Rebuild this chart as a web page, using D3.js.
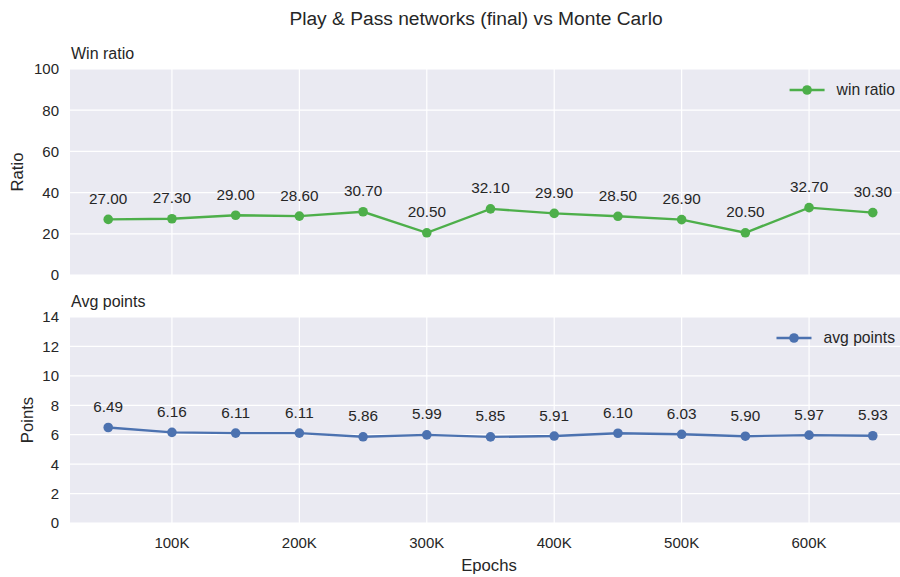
<!DOCTYPE html>
<html><head><meta charset="utf-8">
<script src="https://cdn.jsdelivr.net/npm/d3@7"></script>
<style>
body{margin:0;background:#fff;}
svg text{font-family:"Liberation Sans",Arial,sans-serif;fill:#262626;}
</style></head>
<body><svg id="c" width="900" height="577"></svg>
<script>
const epochs = [50000,100000,150000,200000,250000,300000,350000,400000,450000,500000,550000,600000,650000];
const winRatio = [27.00,27.30,29.00,28.60,30.70,20.50,32.10,29.90,28.50,26.90,20.50,32.70,30.30];
const avgPoints = [6.49,6.16,6.11,6.11,5.86,5.99,5.85,5.91,6.10,6.03,5.90,5.97,5.93];
const xTicks = [100000,200000,300000,400000,500000,600000];
const winTicks = [0,20,40,60,80,100];
const ptsTicks = [0,2,4,6,8,10,12,14];

const svg = d3.select("#c");
const x = d3.scaleLinear().domain([20000,680000]).range([70,911]);

function panel(cfg){
  const y = d3.scaleLinear().domain(cfg.domain).range([cfg.bottom,cfg.top]);
  const g = svg.append("g");
  g.append("rect").attr("x",70).attr("y",cfg.top).attr("width",841).attr("height",cfg.bottom-cfg.top).attr("fill","#eaeaf2");
  g.selectAll(".gy").data(cfg.ticks).enter().append("line")
    .attr("x1",70).attr("x2",911).attr("y1",d=>y(d)).attr("y2",d=>y(d))
    .attr("stroke","#fff").attr("stroke-width",1.2);
  g.selectAll(".gx").data(xTicks).enter().append("line")
    .attr("x1",d=>x(d)).attr("x2",d=>x(d)).attr("y1",cfg.top).attr("y2",cfg.bottom)
    .attr("stroke","#fff").attr("stroke-width",1.2);
  g.selectAll(".ty").data(cfg.ticks).enter().append("text")
    .attr("x",59).attr("y",d=>y(d)).attr("dy","0.36em").attr("text-anchor","end")
    .attr("font-size","15px").text(d=>d);
  g.append("text").attr("x",71).attr("y",cfg.top-10).attr("font-size","16px").text(cfg.title);
  g.append("text").attr("transform",`translate(${cfg.ylabX},${(cfg.top+cfg.bottom)/2}) rotate(-90)`)
    .attr("text-anchor","middle").attr("dy","0.35em").attr("font-size","16.7px").text(cfg.ylabel);
  const line = d3.line().x((d,i)=>x(epochs[i])).y(d=>y(d));
  g.append("path").datum(cfg.values).attr("d",line).attr("fill","none")
    .attr("stroke",cfg.color).attr("stroke-width",2.4);
  g.selectAll(".pt").data(cfg.values).enter().append("circle")
    .attr("cx",(d,i)=>x(epochs[i])).attr("cy",d=>y(d)).attr("r",4.8).attr("fill",cfg.color);
  g.selectAll(".lab").data(cfg.values).enter().append("text")
    .attr("x",(d,i)=>x(epochs[i])).attr("y",d=>y(d)-15.5).attr("text-anchor","middle")
    .attr("font-size","15.3px").text(d=>d.toFixed(2));
  const ly = cfg.top+21;
  const lg = g.append("g");
  lg.append("text").attr("x",895).attr("y",ly).attr("dy","0.35em").attr("text-anchor","end")
    .attr("font-size","15.7px").text(cfg.legend);
  const tw = lg.select("text").node().getComputedTextLength();
  const tx = 895 - tw;
  lg.append("line").attr("x1",tx-47).attr("x2",tx-12).attr("y1",ly).attr("y2",ly)
    .attr("stroke",cfg.color).attr("stroke-width",2.4);
  lg.append("circle").attr("cx",tx-29.5).attr("cy",ly).attr("r",4.8).attr("fill",cfg.color);
  return y;
}

panel({domain:[0,100],top:69,bottom:275,ticks:winTicks,values:winRatio,color:"#4daf4a",
  title:"Win ratio",ylabel:"Ratio",ylabX:17,legend:"win ratio"});
panel({domain:[0,14],top:317,bottom:523,ticks:ptsTicks,values:avgPoints,color:"#4c72b0",
  title:"Avg points",ylabel:"Points",ylabX:27,legend:"avg points"});

svg.selectAll(".tx").data(xTicks).enter().append("text")
  .attr("x",d=>x(d)).attr("y",543).attr("dy","0.36em").attr("text-anchor","middle")
  .attr("font-size","15px").text(d=>d3.format("d")(d/1000)+"K");
svg.append("text").attr("x",489).attr("y",565).attr("dy","0.35em").attr("text-anchor","middle")
  .attr("font-size","16.7px").text("Epochs");
svg.append("text").attr("x",476).attr("y",18).attr("dy","0.35em").attr("text-anchor","middle")
  .attr("font-size","19.2px").text("Play & Pass networks (final) vs Monte Carlo");
</script></body></html>
